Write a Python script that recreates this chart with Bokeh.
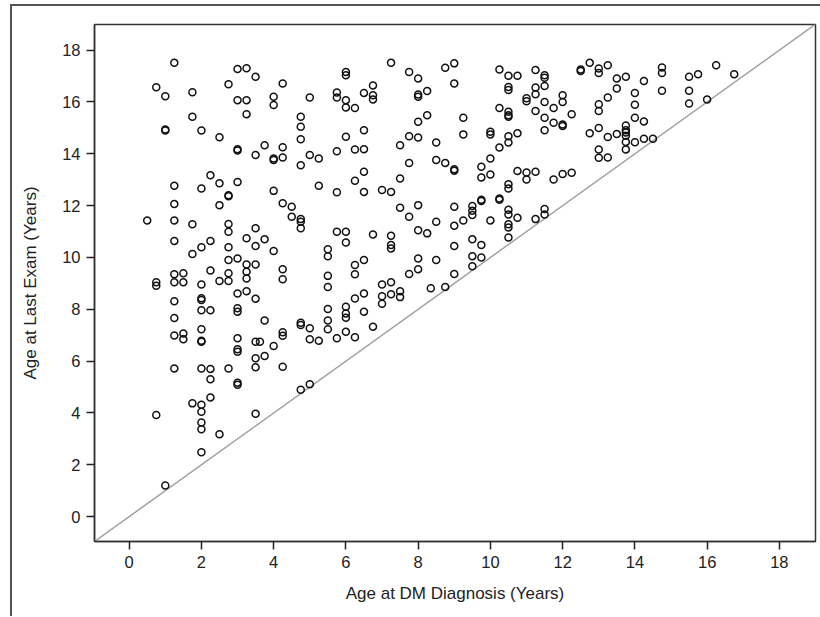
from bokeh.plotting import figure
from bokeh.models import Range1d, FixedTicker, ColumnDataSource
from bokeh.embed import file_html
from bokeh.resources import INLINE

x_title = "Age at DM Diagnosis (Years)"
y_title = "Age at Last Exam (Years)"
tick_values = [0, 2, 4, 6, 8, 10, 12, 14, 16, 18]
identity_line = [-1.0, 20.0]

age_dx = [
    0.5,
    0.75, 0.75, 0.75, 0.75,
    1.0, 1.0, 1.0, 1.0,
    1.25, 1.25, 1.25, 1.25, 1.25, 1.25, 1.25, 1.25, 1.25, 1.25, 1.25,
    1.5, 1.5, 1.5, 1.5,
    1.75, 1.75, 1.75, 1.75, 1.75,
    2.0, 2.0, 2.0, 2.0, 2.0, 2.0, 2.0, 2.0, 2.0, 2.0, 2.0, 2.0, 2.0, 2.0, 2.0, 2.0,
    2.25, 2.25, 2.25, 2.25, 2.25, 2.25, 2.25,
    2.5, 2.5, 2.5, 2.5, 2.5,
    2.75, 2.75, 2.75, 2.75, 2.75, 2.75, 2.75, 2.75, 2.75, 2.75,
    3.0, 3.0, 3.0, 3.0, 3.0, 3.0, 3.0, 3.0, 3.0, 3.0, 3.0, 3.0, 3.0, 3.0,
    3.25, 3.25, 3.25, 3.25, 3.25, 3.25, 3.25, 3.25,
    3.5, 3.5, 3.5, 3.5, 3.5, 3.5, 3.5, 3.5, 3.5, 3.5,
    3.62,
    3.75, 3.75, 3.75, 3.75,
    4.0, 4.0, 4.0, 4.0, 4.0, 4.0, 4.0,
    4.25, 4.25, 4.25, 4.25, 4.25, 4.25, 4.25, 4.25, 4.25,
    4.5, 4.5,
    4.75, 4.75, 4.75, 4.75, 4.75, 4.75, 4.75, 4.75, 4.75, 4.75,
    5.0, 5.0, 5.0, 5.0, 5.0,
    5.25, 5.25, 5.25,
    5.5, 5.5, 5.5, 5.5, 5.5, 5.5, 5.5,
    5.75, 5.75, 5.75, 5.75, 5.75, 5.75,
    6.0, 6.0, 6.0, 6.0, 6.0, 6.0, 6.0, 6.0, 6.0, 6.0, 6.0,
    6.25, 6.25, 6.25, 6.25, 6.25, 6.25, 6.25,
    6.5, 6.5, 6.5, 6.5, 6.5, 6.5, 6.5, 6.5,
    6.75, 6.75, 6.75, 6.75, 6.75,
    7.0, 7.0, 7.0, 7.0,
    7.25, 7.25, 7.25, 7.25, 7.25, 7.25, 7.25,
    7.5, 7.5, 7.5, 7.5, 7.5,
    7.75, 7.75, 7.75, 7.75, 7.75,
    8.0, 8.0, 8.0, 8.0, 8.0, 8.0, 8.0, 8.0, 8.0,
    8.25, 8.25, 8.25,
    8.35,
    8.5, 8.5, 8.5, 8.5,
    8.75, 8.75, 8.75,
    9.0, 9.0, 9.0, 9.0, 9.0, 9.0, 9.0, 9.0,
    9.25, 9.25, 9.25,
    9.5, 9.5, 9.5, 9.5, 9.5, 9.5,
    9.75, 9.75, 9.75, 9.75, 9.75, 9.75,
    10.0, 10.0, 10.0, 10.0, 10.0,
    10.25, 10.25, 10.25, 10.25, 10.25,
    10.5, 10.5, 10.5, 10.5, 10.5, 10.5, 10.5, 10.5, 10.5, 10.5, 10.5, 10.5, 10.5, 10.5, 10.5,
    10.75, 10.75, 10.75, 10.75,
    11.0, 11.0, 11.0, 11.0,
    11.25, 11.25, 11.25, 11.25, 11.25, 11.25,
    11.5, 11.5, 11.5, 11.5, 11.5, 11.5, 11.5, 11.5,
    11.75, 11.75, 11.75,
    12.0, 12.0, 12.0, 12.0, 12.0,
    12.25, 12.25,
    12.5, 12.5,
    12.75, 12.75,
    13.0, 13.0, 13.0, 13.0, 13.0, 13.0, 13.0,
    13.25, 13.25, 13.25, 13.25,
    13.5, 13.5, 13.5,
    13.75, 13.75, 13.75, 13.75, 13.75, 13.75, 13.75,
    14.0, 14.0, 14.0, 14.0,
    14.25, 14.25, 14.25,
    14.5,
    14.75, 14.75, 14.75,
    15.5, 15.5, 15.5,
    15.75,
    16.0,
    16.25,
    16.75,
]

age_exam = [
    11.43,
    16.57, 9.04, 8.91, 3.92,
    16.22, 14.94, 14.90, 1.20,
    17.51, 12.77, 12.06, 11.43, 10.64, 9.35, 9.04, 8.31, 7.66, 6.99, 5.72,
    9.39, 9.04, 7.07, 6.84,
    16.38, 15.43, 11.28, 10.13, 4.37,
    14.90, 12.66, 10.39, 8.96, 8.43, 8.36, 7.96, 7.23, 6.79, 6.75, 5.72, 4.32, 4.05, 3.63, 3.37, 2.48,
    13.17, 10.64, 9.50, 7.96, 5.70, 5.30, 4.60,
    14.64, 12.86, 12.02, 9.09, 3.18,
    16.68, 12.40, 12.36, 11.29, 10.99, 10.39, 9.90, 9.39, 9.09, 5.72,
    17.27, 16.07, 14.18, 14.13, 12.91, 9.96, 8.61, 8.04, 7.91, 6.88, 6.46, 6.36, 5.17, 5.09,
    17.30, 16.07, 15.53, 10.74, 9.73, 9.45, 9.19, 8.70,
    16.97, 13.95, 11.13, 10.44, 9.73, 8.41, 6.75, 6.11, 5.76, 3.97,
    6.75,
    14.33, 10.70, 7.57, 6.20,
    16.20, 15.88, 13.82, 13.76, 12.57, 10.25, 6.58,
    16.71, 14.25, 13.86, 12.09, 9.55, 9.16, 7.11, 6.98, 5.78,
    11.96, 11.57,
    15.43, 15.04, 14.56, 13.56, 11.48, 11.38, 11.13, 7.48, 7.39, 4.90,
    16.17, 13.95, 7.27, 6.84, 5.11,
    13.82, 12.77, 6.79,
    10.32, 10.05, 9.29, 8.86, 8.01, 7.57, 7.23,
    16.37, 16.17, 14.10, 12.52, 10.99, 6.88,
    17.16, 17.03, 16.07, 15.79, 14.66, 10.99, 10.58, 8.10, 7.84, 7.67, 7.13,
    15.77, 14.17, 12.96, 9.71, 9.35, 8.42, 6.92,
    16.35, 14.91, 14.18, 13.31, 12.53, 9.90, 8.61, 7.91,
    16.64, 16.26, 16.10, 10.89, 7.33,
    12.60, 8.96, 8.50, 8.21,
    17.51, 12.53, 10.84, 10.48, 10.35, 9.04, 8.58,
    14.33, 13.05, 11.92, 8.70, 8.47,
    17.16, 14.68, 13.65, 11.57, 9.36,
    16.91, 16.29, 16.20, 15.24, 14.63, 12.02, 11.05, 9.96, 9.55,
    16.42, 15.49, 10.93,
    8.81,
    14.44, 13.76, 11.38, 9.90,
    17.32, 13.65, 8.86,
    17.49, 16.71, 13.40, 13.35, 11.96, 11.22, 10.44, 9.36,
    15.39, 14.75, 11.43,
    11.99, 11.80, 11.64, 10.70, 10.05, 9.66,
    13.50, 13.09, 12.23, 12.18, 10.48, 10.00,
    14.85, 14.75, 13.82, 13.20, 11.43,
    17.25, 15.77, 14.24, 12.28, 12.23,
    17.01, 16.58, 16.46, 15.62, 15.49, 15.43, 14.68, 14.44, 12.83, 12.66, 11.84, 11.66, 11.28, 11.16, 10.77,
    17.01, 14.79, 13.34, 11.53,
    16.14, 16.03, 13.28, 13.01,
    17.23, 16.56, 16.30, 15.65, 13.31, 11.48,
    17.03, 16.94, 16.62, 16.00, 15.39, 14.91, 11.87, 11.66,
    15.77, 15.20, 13.01,
    16.26, 16.00, 15.13, 15.07, 13.22,
    15.53, 13.27,
    17.25, 17.20,
    17.51, 14.79,
    17.29, 17.12, 15.91, 15.65, 15.00, 14.17, 13.85,
    17.42, 16.17, 14.65, 13.86,
    16.91, 16.52, 14.76,
    16.97, 15.09, 14.91, 14.82, 14.70, 14.46, 14.17,
    16.35, 15.89, 15.39, 14.45,
    16.81, 15.25, 14.58,
    14.58,
    17.33, 17.12, 16.43,
    16.97, 16.43, 15.94,
    17.07,
    16.10,
    17.42,
    17.07,
]

assert len(age_dx) == len(age_exam)

FONT = "Liberation Sans"

p = figure(
    frame_width=721, frame_height=517,
    min_border_left=82, min_border_right=5, min_border_top=18, min_border_bottom=75,
    x_range=Range1d(-0.96, 19.0), y_range=Range1d(-0.96, 18.99),
    output_backend="svg", toolbar_location=None,
    background_fill_color="white", border_fill_color="white",
)
p.styles = {
    "margin-left": "10px",
    "margin-top": "4px",
    "border-left": "2px solid #555555",
    "border-top": "2px solid #555555",
}

p.grid.visible = False
p.outline_line_color = "#333333"
p.outline_line_width = 1.5

for ax in (p.xaxis[0], p.yaxis[0]):
    ax.ticker = FixedTicker(ticks=tick_values)
    ax.minor_tick_line_color = None
    ax.major_tick_in = 0
    ax.major_tick_out = 8
    ax.major_tick_line_color = "#222222"
    ax.major_tick_line_width = 1.5
    ax.axis_line_color = "#333333"
    ax.axis_line_width = 1.5
    ax.major_label_text_font = FONT
    ax.major_label_text_font_size = "16.5px"
    ax.major_label_text_color = "#222222"
    ax.axis_label_text_font = FONT
    ax.axis_label_text_font_size = "17px"
    ax.axis_label_text_font_style = "normal"
    ax.axis_label_text_color = "#222222"
    ax.major_label_standoff = 6

p.xaxis[0].axis_label = x_title
p.yaxis[0].axis_label = y_title
p.xaxis[0].axis_label_standoff = 13
p.yaxis[0].axis_label_standoff = 19

p.line(identity_line, identity_line, line_color="#a0a0a0", line_width=1.5)

src = ColumnDataSource(data=dict(x=age_dx, y=age_exam))
p.scatter("x", "y", source=src, marker="circle", size=7,
          fill_color=None, line_color="#111111", line_width=1.5)

open("out.html", "w").write(file_html(p, INLINE))
